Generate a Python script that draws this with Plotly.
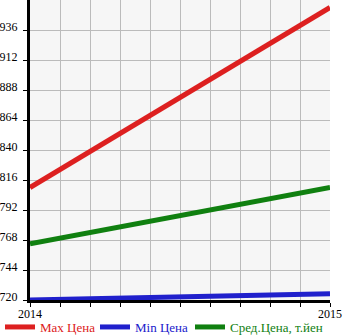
import plotly.graph_objects as go

years = [2014, 2015]
max_price = [810, 954]
min_price = [720, 725]
avg_price = [765, 810]

series = [
    ("Max Цена", max_price, "#dd2020"),
    ("Min Цена", min_price, "#2020cc"),
    ("Сред.Цена, т.йен", avg_price, "#108010"),
]

y_ticks = [720, 744, 768, 792, 816, 840, 864, 888, 912, 936]
x_ticks = [2014 + i / 10 for i in range(11)]
x_text = ["2014"] + [""] * 9 + ["2015"]

W, H = 345, 335
legend_names = ["legend", "legend2", "legend3"]
legend_left_px = [0, 95, 190]

fig = go.Figure()
for (name, vals, col), lg in zip(series, legend_names):
    fig.add_trace(go.Scatter(
        x=years, y=vals, mode="lines",
        name=f"<span style='color:{col}'>{name}</span>",
        line=dict(color=col, width=5),
        legend=lg,
    ))

legend_common = dict(
    orientation="h", xanchor="left", yref="container",
    y=(H - 327) / H, yanchor="middle",
    xref="container",
    font=dict(family="Liberation Serif", size=13),
    itemwidth=30, bgcolor="rgba(0,0,0,0)",
)

fig.update_layout(
    width=W, height=H,
    margin=dict(l=30, r=15, t=0, b=35, autoexpand=False),
    paper_bgcolor="white",
    plot_bgcolor="#f6f6f6",
    showlegend=True,
    font=dict(family="Liberation Serif", size=12, color="black"),
)
for lg, px in zip(legend_names, legend_left_px):
    fig.update_layout({lg: dict(legend_common, x=px / W)})

fig.update_xaxes(
    range=[2014, 2015], tickvals=x_ticks, ticktext=x_text,
    showgrid=True, gridcolor="#bbbbbb", gridwidth=1,
    showline=True, linecolor="black", linewidth=3,
    ticks="outside", ticklen=4, tickcolor="black", tickwidth=1,
    zeroline=False, ticklabelstandoff=-3,
)
fig.update_yaxes(
    range=[720, 960], tickvals=y_ticks,
    showgrid=True, gridcolor="#bbbbbb", gridwidth=1,
    showline=True, linecolor="black", linewidth=3,
    ticks="outside", ticklen=4, tickcolor="black", tickwidth=1,
    zeroline=False, ticklabelstandoff=3, ticklabelshift=-3,
)

fig.write_html("out.html")
